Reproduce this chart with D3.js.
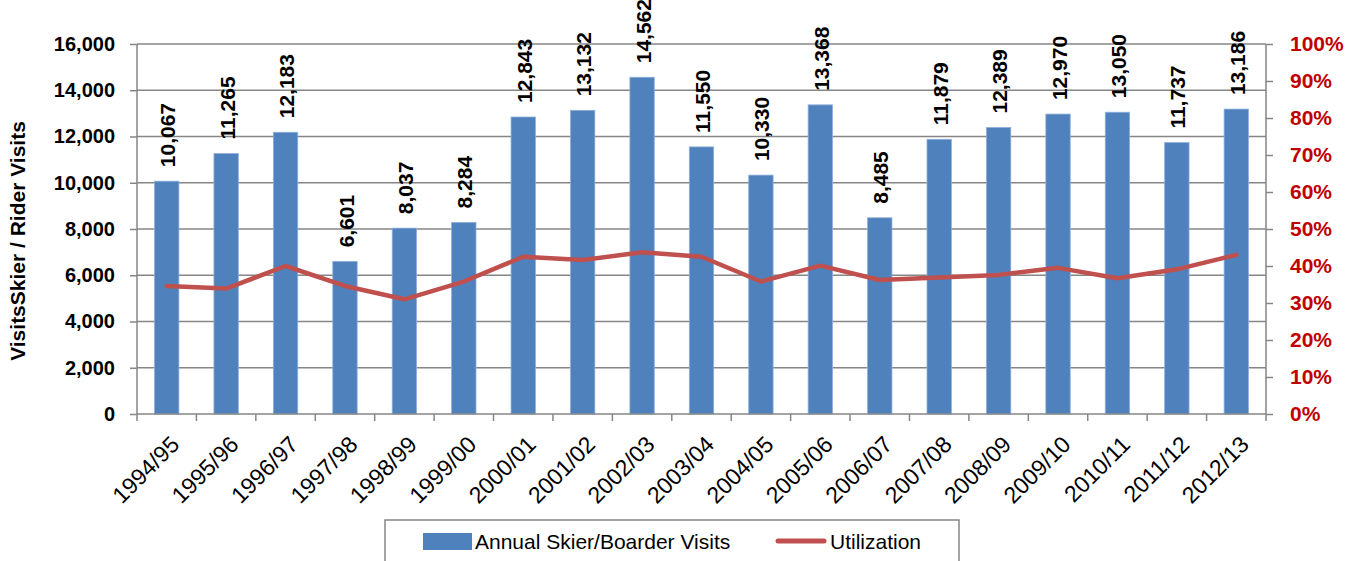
<!DOCTYPE html>
<html><head>
<meta charset="utf-8">
<script src="https://d3js.org/d3.v7.min.js"></script>
<style>
  body { margin: 0; background: #fff; }
  text { font-family: "Liberation Sans", Arial, sans-serif; }
</style>
</head>
<body>
<div id="container"></div>
<script>
// chart data
const seasons = ["1994/95","1995/96","1996/97","1997/98","1998/99","1999/00","2000/01","2001/02","2002/03","2003/04",
                 "2004/05","2005/06","2006/07","2007/08","2008/09","2009/10","2010/11","2011/12","2012/13"];
const visits = [10067, 11265, 12183, 6601, 8037, 8284, 12843, 13132, 14562, 11550,
                10330, 13368, 8485, 11879, 12389, 12970, 13050, 11737, 13186];
const utilization = [0.346, 0.339, 0.400, 0.346, 0.310, 0.358, 0.425, 0.416, 0.437, 0.425,
                     0.358, 0.401, 0.362, 0.369, 0.376, 0.395, 0.367, 0.391, 0.430];
const leftTicks = [0, 2000, 4000, 6000, 8000, 10000, 12000, 14000, 16000];
const rightTicks = [0, 0.1, 0.2, 0.3, 0.4, 0.5, 0.6, 0.7, 0.8, 0.9, 1.0];

const width = 1357, height = 561;
const margin = { top: 44, right: 91, bottom: 147, left: 137 };
const chartWidth = width - margin.left - margin.right;
const chartHeight = height - margin.top - margin.bottom;

const gridColor = "#868686";
const barColor = "#4F81BD";
const lineColor = "#C0504D";
const redText = "#C00000";

const svg = d3.select("#container").append("svg")
  .attr("width", width).attr("height", height);

const xScale = d3.scaleBand().domain(seasons).range([0, chartWidth]).paddingInner(0.59).paddingOuter(0.295);
const xCenter = d3.scalePoint().domain(seasons).range([0, chartWidth]).padding(0.5);
const yScale = d3.scaleLinear().domain([0, 16000]).range([chartHeight, 0]);
const y2Scale = d3.scaleLinear().domain([0, 1]).range([chartHeight, 0]);

const plot = svg.append("g").attr("transform", "translate(" + margin.left + "," + margin.top + ")");

// horizontal gridlines
plot.selectAll("line.grid").data(leftTicks.slice(1))
  .join("line").attr("class", "grid")
  .attr("x1", 0).attr("x2", chartWidth)
  .attr("y1", d => yScale(d)).attr("y2", d => yScale(d))
  .attr("stroke", gridColor).attr("stroke-width", 1.5);

// bars
plot.selectAll("rect.bar").data(visits)
  .join("rect").attr("class", "bar")
  .attr("x", (d, i) => xScale(seasons[i]))
  .attr("width", xScale.bandwidth())
  .attr("y", d => yScale(d))
  .attr("height", d => chartHeight - yScale(d))
  .attr("fill", barColor)
  .attr("stroke", "#8eaedb").attr("stroke-width", 0.8);

// data labels
plot.selectAll("text.val").data(visits)
  .join("text").attr("class", "val")
  .attr("transform", (d, i) => "translate(" + (xCenter(seasons[i]) + 1) + "," + (yScale(d) - 14) + ") rotate(-90)")
  .attr("dy", "0.36em")
  .attr("font-size", 21).attr("font-weight", "bold").attr("fill", "#000")
  .text(d => d3.format(",")(d));

// utilization line
const line = d3.line().x((d, i) => xCenter(seasons[i])).y(d => y2Scale(d));
plot.append("path").datum(utilization)
  .attr("d", line).attr("fill", "none")
  .attr("stroke", lineColor).attr("stroke-width", 4.5)
  .attr("stroke-linejoin", "round").attr("stroke-linecap", "round");

// left axis
const yAxis = d3.axisLeft(yScale).tickValues(leftTicks).tickSize(7).tickPadding(15).tickFormat(d3.format(","));
const yAxisArea = plot.append("g").call(yAxis);
yAxisArea.select(".domain").attr("stroke", gridColor).attr("stroke-width", 1.5).attr("d", "M0," + chartHeight + "V0");
yAxisArea.selectAll(".tick line").attr("stroke", gridColor).attr("stroke-width", 1.5);
yAxisArea.selectAll(".tick text").attr("font-size", 20).attr("font-weight", "bold").attr("fill", "#000")
  .attr("font-family", "Liberation Sans, Arial, sans-serif");

// right axis
const y2Axis = d3.axisRight(y2Scale).tickValues(rightTicks).tickSize(7).tickPadding(17).tickFormat(d3.format(".0%"));
const y2AxisArea = plot.append("g").attr("transform", "translate(" + chartWidth + ",0)").call(y2Axis);
y2AxisArea.select(".domain").attr("stroke", gridColor).attr("stroke-width", 1.5).attr("d", "M0," + chartHeight + "V0");
y2AxisArea.selectAll(".tick line").attr("stroke", gridColor).attr("stroke-width", 1.5);
y2AxisArea.selectAll(".tick text").attr("font-size", 21).attr("font-weight", "bold").attr("fill", redText)
  .attr("font-family", "Liberation Sans, Arial, sans-serif");

// bottom axis: line + ticks between categories
plot.append("line").attr("x1", 0).attr("x2", chartWidth).attr("y1", chartHeight).attr("y2", chartHeight)
  .attr("stroke", gridColor).attr("stroke-width", 1.5);
const step = chartWidth / seasons.length;
plot.selectAll("line.xtick").data(d3.range(seasons.length + 1))
  .join("line").attr("class", "xtick")
  .attr("x1", d => d * step).attr("x2", d => d * step)
  .attr("y1", chartHeight).attr("y2", chartHeight + 7)
  .attr("stroke", gridColor).attr("stroke-width", 1.5);

plot.selectAll("text.xlab").data(seasons)
  .join("text").attr("class", "xlab")
  .attr("transform", d => "translate(" + (xCenter(d) + 14) + "," + (chartHeight + 32) + ") rotate(-45)")
  .attr("text-anchor", "end")
  .attr("font-size", 23).attr("fill", "#000")
  .text(d => d);

// y axis title
svg.append("text")
  .attr("transform", "translate(25," + (margin.top + chartHeight / 2 + 12) + ") rotate(-90)")
  .attr("text-anchor", "middle")
  .attr("font-size", 21).attr("font-weight", "bold").attr("fill", "#000")
  .text("VisitsSkier / Rider Visits");

// legend
const legend = svg.append("g");
legend.append("rect").attr("x", 385).attr("y", 520).attr("width", 574).attr("height", 60)
  .attr("fill", "#fff").attr("stroke", gridColor).attr("stroke-width", 1.5);
legend.append("rect").attr("x", 423).attr("y", 533).attr("width", 49).attr("height", 17).attr("fill", barColor);
legend.append("text").attr("x", 475).attr("y", 549).attr("font-size", 21).attr("fill", "#000")
  .text("Annual Skier/Boarder Visits");
legend.append("line").attr("x1", 778).attr("x2", 824).attr("y1", 541).attr("y2", 541)
  .attr("stroke", lineColor).attr("stroke-width", 5).attr("stroke-linecap", "round");
legend.append("text").attr("x", 830).attr("y", 549).attr("font-size", 21).attr("fill", "#000")
  .text("Utilization");
</script>
</body>
</html>
